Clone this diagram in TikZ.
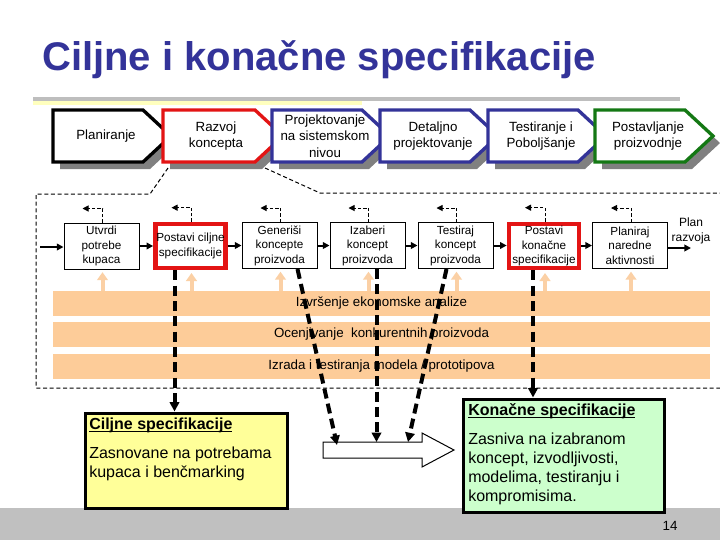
\documentclass[tikz,border=0pt]{standalone}
\usepackage{fontspec}
\setmainfont{Liberation Sans}
\usetikzlibrary{arrows.meta,calc}
\definecolor{navy}{RGB}{51,51,153}
\definecolor{myred}{RGB}{227,20,20}
\definecolor{mygreen}{RGB}{20,120,20}
\definecolor{shadowgray}{RGB}{128,128,128}
\definecolor{peach}{RGB}{253,204,153}
\definecolor{peacharrow}{RGB}{251,208,165}
\definecolor{rulegray}{RGB}{190,190,190}
\definecolor{ruleyellow}{RGB}{255,255,190}
\definecolor{footgray}{RGB}{192,192,192}
\definecolor{boxyellow}{RGB}{255,255,153}
\definecolor{boxgreen}{RGB}{204,255,204}
\newcommand\mychev[5]{% #1 left, #2 corner, #3 colour, #4 name, #5 text
  \fill[shadowgray] ({#1+7},117) -- ({#2+7},117) -- ({#2+35},143) -- ({#2+7},169) -- ({#1+7},169) -- cycle;
  \draw[#3, line width=2.5pt, fill=white] (#1,110) -- (#2,110) -- ({#2+28},136) -- (#2,162) -- (#1,162) -- cycle;
  \node[chevtext] (#4) at ({#1+53},136) {#5};
}
\newcommand\myul[1]{\underline{\smash{#1}}\vphantom{Cl}}
\begin{document}
\begin{tikzpicture}[x=0.75pt,y=-0.75pt,
  chevtext/.style={font=\fontsize{10}{12.4}\selectfont, align=center, inner sep=0pt},
  subbox/.style={draw=black, line width=0.75pt, fill=white, minimum width=56.25pt, minimum height=34.5pt, inner sep=0pt, align=center, font=\fontsize{8.8}{10.9}\selectfont},
  redbox/.style={subbox, draw=myred, line width=3.5pt, minimum width=52.5pt, minimum height=33pt},
  flow/.style={-{Triangle[length=5pt,width=5pt]}, line width=1.5pt},
  feedback/.style={dash pattern=on 2.5pt off 1.5pt, line width=0.75pt, -{Triangle[length=4.5pt,width=4.5pt]}},
  uparrow/.style={draw=peacharrow, line width=3pt, -{Triangle[length=6pt,width=8pt]}},
  bigdash/.style={line width=3pt, dash pattern=on 7.5pt off 4pt, -{Triangle[length=7pt,width=7pt]}},
  thindash/.style={line width=0.75pt, dash pattern=on 3pt off 2pt},
  bar/.style={fill=peach, minimum width=492.75pt, minimum height=18.75pt, inner sep=0pt, font=\fontsize{10}{12}\selectfont},
  boxtext/.style={font=\fontsize{12}{14.25}\selectfont, align=left, inner sep=0pt, anchor=north west},
]
\useasboundingbox (0,0) rectangle (720,540);
\fill[white] (0,0) rectangle (720,540);
% footer
\fill[footgray] (0,508) rectangle (720,540);
% title and rule
\node[anchor=base west, font=\fontsize{30}{36}\selectfont\bfseries, text=navy, inner sep=0pt] (title) at (42,70) {Ciljne i konačne specifikacije};
\fill[rulegray] (33,97) rectangle (680,101);
\fill[ruleyellow] (33,101) rectangle (362,105);
% phase chevrons
\mychev{53}{143}{black}{c1}{Planiranje}
\mychev{163}{255}{myred}{c2}{Razvoj\\koncepta}
\mychev{272}{362}{navy}{c3}{Projektovanje\\na sistemskom\\nivou}
\mychev{380}{470}{navy}{c4}{Detaljno\\projektovanje}
\mychev{488}{578}{navy}{c5}{Testiranje i\\Poboljšanje}
\mychev{595}{685}{mygreen}{c6}{Postavljanje\\proizvodnje}
% callout boundary
\draw[thindash] (168,168) -- (150,194) -- (36,194) -- (36,388) -- (720,388);
\draw[thindash] (265,168) -- (320,193) -- (720,193);
% bars
\node[bar] (bar1) at (381.5,303.5) {Izvršenje ekonomske analize};
\node[bar] (bar2) at (381.5,334.5) {Ocenjivanje\ \ konkurentnih proizvoda};
\node[bar] (bar3) at (381.5,366.5) {Izrada i testiranja modela / prototipova};
% sub-steps
\node[subbox] (b1) at (101.5,246) {Utvrdi\\potrebe\\kupaca};
\node[redbox] (b2) at (190.5,246) {Postavi ciljne\\specifikacije};
\node[subbox] (b3) at (279.5,245.5) {Generiši\\koncepte\\proizvoda};
\node[subbox] (b4) at (367.5,245.5) {Izaberi\\koncept\\proizvoda};
\node[subbox] (b5) at (455.5,245.5) {Testiraj\\koncept\\proizvoda};
\node[redbox] (b6) at (544,246) {Postavi\\konačne\\specifikacije};
\node[subbox] (b7) at (630,245.5) {Planiraj\\naredne\\aktivnosti};
\node[font=\fontsize{9}{11}\selectfont, align=center, inner sep=0pt] (plan) at (691,231) {Plan\\razvoja};
\coordinate (inp) at (40,247);
\coordinate (outp) at (691,248);
\draw[flow] (inp) -- (b1.west |- inp);
\draw[flow] (b1.east) -- (b2.west |- b1.east);
\draw[flow] (b2.east |- b3.west) -- (b3.west);
\draw[flow] (b3.east) -- (b4.west);
\draw[flow] (b4.east) -- (b5.west);
\draw[flow] (b5.east) -- (b6.west |- b5.east);
\draw[flow] (b6.east |- b7.west) -- (b7.west);
\draw[flow] (b7.east |- outp) -- (outp);
% feedback arrows
\foreach \b in {b1,b2,b3,b4,b5,b6,b7}{
  \draw[feedback] ($(\b.north)+(1,0)$) -- ++(0,-14) -- ++(-20,0);
}
% upward arrows from bars
\foreach \b in {b1,b2,b3,b4,b5,b6,b7}{
  \draw[uparrow, shorten >=2pt] ($(\b.south |- bar1.north)+(1,0)$) -- ($(\b.south)+(1,0)$);
}
% summary boxes
\node[draw=black, line width=2.25pt, fill=boxyellow, anchor=north west, minimum width=151.5pt, minimum height=71.25pt, inner sep=0pt] (ybox) at (83.5,411.5) {};
\node[boxtext] (ytext) at (89,418) {\textbf{\myul{Ciljne specifikacije}}\\[7.5pt]Zasnovane na potrebama\\kupaca i benčmarking};
\node[draw=black, line width=2.25pt, fill=boxgreen, anchor=north west, minimum width=151pt, minimum height=84.75pt, inner sep=0pt] (gbox) at (461.5,397.5) {};
\node[boxtext] (gtext) at (468,404) {\textbf{\myul{Konačne specifikacije}}\\[7.5pt]Zasniva na izabranom\\koncept, izvodljivosti,\\modelima, testiranju i\\kompromisima.};
% big hollow arrow
\draw[line width=0.75pt, fill=white] (323,442) -- (422,442) -- (422,433) -- (454,450) -- (422,467) -- (422,458) -- (323,458) -- cycle;
\coordinate (ta) at (337,445);
\coordinate (tb) at (376,442);
\coordinate (tc) at (408,442);
% thick dashed arrows
\coordinate (sa) at ($(b2.south)+(-16,0)$);
\coordinate (sb) at ($(b3.south)+(18,0)$);
\coordinate (sc) at ($(b4.south)+(9,0)$);
\coordinate (sd) at ($(b5.south)+(-9,0)$);
\coordinate (se) at ($(b6.south)+(-11,0)$);
\draw[bigdash] (sa) -- (sa |- ybox.north);
\draw[bigdash] (sb) -- (ta);
\draw[bigdash] (sc) -- (sc |- tb);
\draw[bigdash] (sd) -- (tc);
\draw[bigdash] (se) -- (se |- gbox.north);
% page number
\node[font=\fontsize{10}{12}\selectfont, anchor=base, inner sep=0pt] (pnum) at (670,530) {14};
\end{tikzpicture}
\end{document}
